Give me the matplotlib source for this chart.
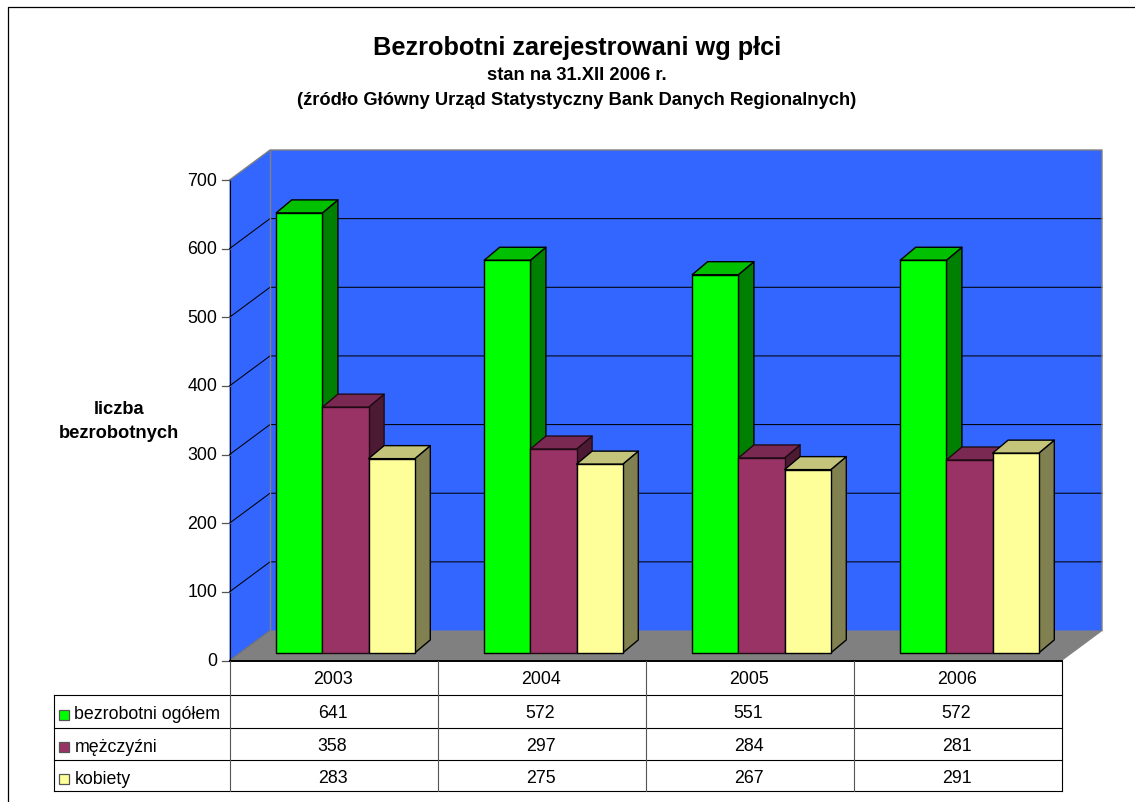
import matplotlib
matplotlib.use("Agg")
import matplotlib.pyplot as plt
from matplotlib.patches import Polygon, Rectangle

plt.rcParams['font.family'] = ['Liberation Sans', 'DejaVu Sans']

years = ['2003', '2004', '2005', '2006']
series_names = ['bezrobotni ogółem', 'mężczyźni', 'kobiety']
total = [641, 572, 551, 572]
men = [358, 297, 284, 281]
women = [283, 275, 267, 291]
series = [total, men, women]
y_ticks = [0, 100, 200, 300, 400, 500, 600, 700]

front = ['#00FF00', '#993366', '#FFFF99']
top = ['#00C000', '#7A2952', '#C4C47A']
side = ['#008000', '#4D1A33', '#808050']
edge = ['#000000', '#1F0A14', '#000000']

W, H = 1135, 803
fig = plt.figure(figsize=(W / 100, H / 100), dpi=100, facecolor='white')

# page layer in pixels
pg = fig.add_axes([0, 0, 1, 1], zorder=0)
pg.set_xlim(0, W); pg.set_ylim(H, 0); pg.axis('off')
pg.plot([7.5, 7.5, 1135], [803, 7.5, 7.5], color='black', lw=0.9, clip_on=False)

# plot axes: front plane of the 3-D box
L, R, T, B = 229.5, 1061.5, 181.0, 661.5
ax = fig.add_axes([L / W, 1 - B / H, (R - L) / W, (B - T) / H], zorder=1)
ax.set_xlim(0, 4); ax.set_ylim(0, 700); ax.axis('off')
px_x = 4 / (R - L); px_y = 700 / (B - T)
DX, DY = 40.5 * px_x, 30 * px_y   # box depth


def poly(pts, fc, ec='none', lw=0.0, z=1):
    ax.add_patch(Polygon(pts, closed=True, fc=fc, ec=ec, lw=lw, zorder=z, clip_on=False,
                         joinstyle='round'))


WALL = '#3366FF'
GREY = '#808080'
poly([(DX, DY), (4 + DX, DY), (4 + DX, 700 + DY), (DX, 700 + DY)], WALL, z=1)
poly([(0, 0), (DX, DY), (DX, 700 + DY), (0, 700)], WALL, z=1)
poly([(0, 0), (4, 0), (4 + DX, DY), (DX, DY)], GREY, z=1)
for v in y_ticks[1:-1]:
    ax.plot([0, DX, 4 + DX], [v, v + DY, v + DY], color='black', lw=0.75, zorder=2, clip_on=False)
ax.plot([0, DX, 4 + DX, 4 + DX], [700, 700 + DY, 700 + DY, DY], color='#808080', lw=1.0, zorder=2, clip_on=False)
ax.plot([DX, DX], [DY, 700 + DY], color='#808080', lw=1.0, zorder=2, clip_on=False)
ax.plot([0, DX], [0, DY], color='#707070', lw=0.8, zorder=2, clip_on=False)
ax.plot([0, 0], [0, 700], color='black', lw=0.8, zorder=2, clip_on=False)
ax.plot([4, 4 + DX], [0, DY], color='#808080', lw=0.8, zorder=2, clip_on=False)
for v in y_ticks:
    ax.plot([-8 * px_x, 0], [v, v], color='#555555', lw=0.9, zorder=2, clip_on=False)
    ax.text(-12 * px_x, v, str(v), ha='right', va='center', fontsize=12.8, color='black', clip_on=False)

# bars
bw = 46.2 * px_x
ox, oy = 12.0 * px_x, 7.6 * px_y   # bar row offset inside the box
bdx, bdy = 15.5 * px_x, 13 * px_y  # bar depth
z = 3
for g in range(len(years)):
    x0 = g + 0.5 - 1.5 * bw + ox
    for s, vals in enumerate(series):
        v = vals[g]
        x = x0 + s * bw
        y0, y1 = oy, oy + v
        poly([(x + bw, y0), (x + bw + bdx, y0 + bdy), (x + bw + bdx, y1 + bdy), (x + bw, y1)],
             side[s], edge[s], 1.0, z)
        poly([(x, y1), (x + bw, y1), (x + bw + bdx, y1 + bdy), (x + bdx, y1 + bdy)],
             top[s], edge[s], 1.0, z + 1)
        poly([(x, y0), (x + bw, y0), (x + bw, y1), (x, y1)], front[s], edge[s], 1.0, z + 2)
        z += 3

# data table
row_y = [662, 695.7, 729, 761, 792]
TL = 53.5
pg2 = fig.add_axes([0, 0, 1, 1], zorder=2)
pg2.set_xlim(0, W); pg2.set_ylim(H, 0); pg2.axis('off')
pg2.patch.set_alpha(0)
cw = (R - L) / 4
pg2.plot([L, R], [row_y[0]] * 2, color='black', lw=1.4)
for i in range(1, 5):
    pg2.plot([TL, R], [row_y[i]] * 2, color='black', lw=0.8)
pg2.plot([TL, TL], [row_y[1], row_y[4]], color='black', lw=0.8)
pg2.plot([R, R], [row_y[0], row_y[4]], color='black', lw=0.8)
for i in range(4):
    pg2.plot([L + i * cw] * 2, [row_y[0], row_y[4]], color='#555555', lw=0.8)
for i, yr in enumerate(years):
    pg2.text(L + (i + 0.5) * cw - 1, 683.7, yr, ha='center', va='baseline', fontsize=12.8)
square_top = [710.7, 742.7, 774.7]
label_base = [719.5, 752, 784.5]
value_base = [718.5, 751, 783]
for s, vals in enumerate(series):
    pg2.add_patch(Rectangle((59.3, square_top[s]), 10, 10, fc=front[s], ec='#555555', lw=0.9))
    pg2.text(74.5, label_base[s], series_names[s], ha='left', va='baseline', fontsize=12.8)
    for i, v in enumerate(vals):
        pg2.text(L + (i + 0.5) * cw - 1, value_base[s], str(v), ha='center', va='baseline', fontsize=12.8)

# titles
pg2.text(577, 54.5, 'Bezrobotni zarejestrowani wg płci', ha='center', va='baseline', fontsize=18.3, fontweight='bold')
pg2.text(577, 80.5, 'stan na 31.XII 2006 r.', ha='center', va='baseline', fontsize=13.2, fontweight='bold')
pg2.text(577, 105, '(źródło Główny Urząd Statystyczny Bank Danych Regionalnych)', ha='center', va='baseline', fontsize=13.2, fontweight='bold')
pg2.text(119, 414, 'liczba', ha='center', va='baseline', fontsize=13.2, fontweight='bold')
pg2.text(119, 438.5, 'bezrobotnych', ha='center', va='baseline', fontsize=13.2, fontweight='bold')

fig.savefig('out.png', dpi=100, facecolor='white')
